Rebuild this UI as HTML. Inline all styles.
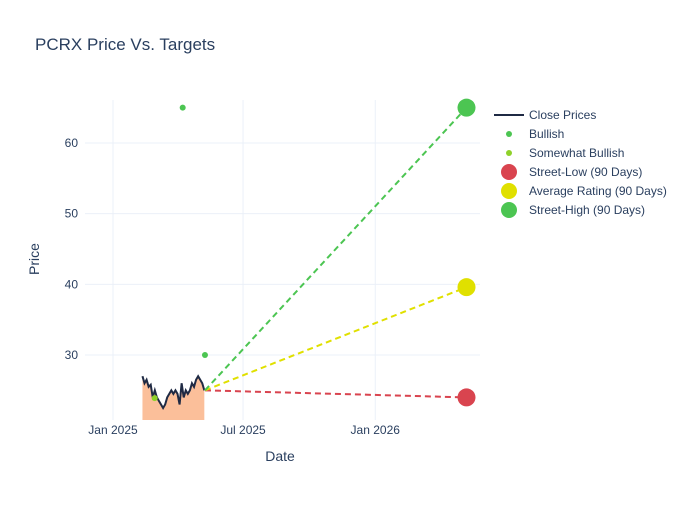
<!DOCTYPE html>
<html><head><meta charset="utf-8"><style>
body{margin:0;background:#fff;font-family:"Liberation Sans",sans-serif;}
svg text{font-family:"Liberation Sans",sans-serif;fill:#2a3f5f;}
</style></head><body>
<svg id="chart" width="700" height="500" xmlns="http://www.w3.org/2000/svg">
<text x="35" y="50" font-size="17">PCRX Price Vs. Targets</text>
<g id="grid"></g>
<g id="marks"></g>
<text x="280" y="461" font-size="14" text-anchor="middle">Date</text>
<text x="39" y="259" font-size="14" text-anchor="middle" transform="rotate(-90 39 259)">Price</text>
<g>
<line x1="494" y1="115" x2="524" y2="115" stroke="#1f2a44" stroke-width="2"/>
<text x="529" y="119" font-size="12">Close Prices</text>
<circle cx="509" cy="134" r="3" fill="#4cc552"/>
<text x="529" y="138" font-size="12">Bullish</text>
<circle cx="509" cy="153" r="3" fill="#8fd12a"/>
<text x="529" y="157" font-size="12">Somewhat Bullish</text>
<circle cx="509" cy="172" r="8" fill="#d9444f"/>
<text x="529" y="176" font-size="12">Street-Low (90 Days)</text>
<circle cx="509" cy="191" r="8" fill="#e0e000"/>
<text x="529" y="195" font-size="12">Average Rating (90 Days)</text>
<circle cx="509" cy="210" r="8" fill="#4cc552"/>
<text x="529" y="214" font-size="12">Street-High (90 Days)</text>
</g>
</svg>
<script>
const priceStart = "2025-02-11";
const priceStepDays = 2.87;
const closePrices = [27,26,26.5,25.5,25.8,24,25,24,23.5,23,22.5,23,24,24.5,25,24.5,25,24.5,23,26,24,25,24.5,25,26,25.5,26.5,27,26.5,26,25];
const bullishDates = ["2025-04-08","2025-05-09"];
const bullishValues = [65,30];
const somewhatDates = ["2025-02-28"];
const somewhatValues = [23.9];
const targetDate = "2026-05-08";
const lastDate = "2025-05-09";
const lastClose = 25;
const streetLow = 24;
const averageTarget = 39.6;
const streetHigh = 65;
const yTicks = [30,40,50,60];
const xTicks = ["2025-01-01","2025-07-01","2026-01-01"];
const xTickLabels = ["Jan 2025","Jul 2025","Jan 2026"];

const NS="http://www.w3.org/2000/svg";
const L=85,R=480,T=100,B=420;
const t0=Date.parse("2025-01-01");
function xs(d){return 113+(Date.parse(d)-t0)/86400000*0.7185;}
function xd(days){return 113+days*0.7185;}
function ys(v){return 143+(60-v)*7.067;}
function mk(tag,attrs,parent){const e=document.createElementNS(NS,tag);for(const k in attrs)e.setAttribute(k,attrs[k]);parent.appendChild(e);return e;}
const grid=document.getElementById('grid'),marks=document.getElementById('marks');
yTicks.forEach(v=>{
 const l=mk('line',{x1:L,x2:R,y1:ys(v),y2:ys(v),stroke:'#ebf0f8'},grid);
 
 
 const t=mk('text',{x:78,y:ys(v)+4,'font-size':12,'text-anchor':'end'},grid);t.textContent=v;
 
 
});
xTicks.forEach((d,i)=>{
 const l=mk('line',{x1:xs(d),x2:xs(d),y1:T,y2:B,stroke:'#ebf0f8'},grid);
 
 
 const t=mk('text',{x:xs(d),y:434,'font-size':12,'text-anchor':'middle'},grid);t.textContent=xTickLabels[i];
 
 
});
const sd=(Date.parse(priceStart)-t0)/86400000;
const pts=closePrices.map((v,i)=>[xd(sd+i*priceStepDays),ys(v)]);
const area=mk('path',{d:'M'+pts[0][0]+','+B+' L'+pts.map(p=>p.join(',')).join(' L')+' L'+pts[pts.length-1][0]+','+B+' Z',fill:'#fbbf9a'},marks);


const line=mk('polyline',{points:pts.map(p=>p.join(',')).join(' '),fill:'none',stroke:'#1f2a44','stroke-width':2},marks);


[[streetLow,'#d9444f','street-low'],[averageTarget,'#e0e000','average-rating'],[streetHigh,'#4cc552','street-high']].forEach(([v,c,n])=>{
 const l=mk('line',{x1:xs(lastDate),y1:ys(lastClose),x2:xs(targetDate),y2:ys(v),stroke:c,'stroke-width':2,'stroke-dasharray':'6,4'},marks);
 
 
});
bullishDates.forEach((d,i)=>{
 const c=mk('circle',{cx:xs(d),cy:ys(bullishValues[i]),r:3,fill:'#4cc552'},marks);
 
 
});
somewhatDates.forEach((d,i)=>{
 const c=mk('circle',{cx:xs(d),cy:ys(somewhatValues[i]),r:3,fill:'#8fd12a'},marks);
 
 
});
[[streetLow,'#d9444f','street-low-marker'],[averageTarget,'#e0e000','average-rating-marker'],[streetHigh,'#4cc552','street-high-marker']].forEach(([v,c,n])=>{
 const e=mk('circle',{cx:xs(targetDate),cy:ys(v),r:9,fill:c},marks);
 
 
});
</script>
</body></html>
